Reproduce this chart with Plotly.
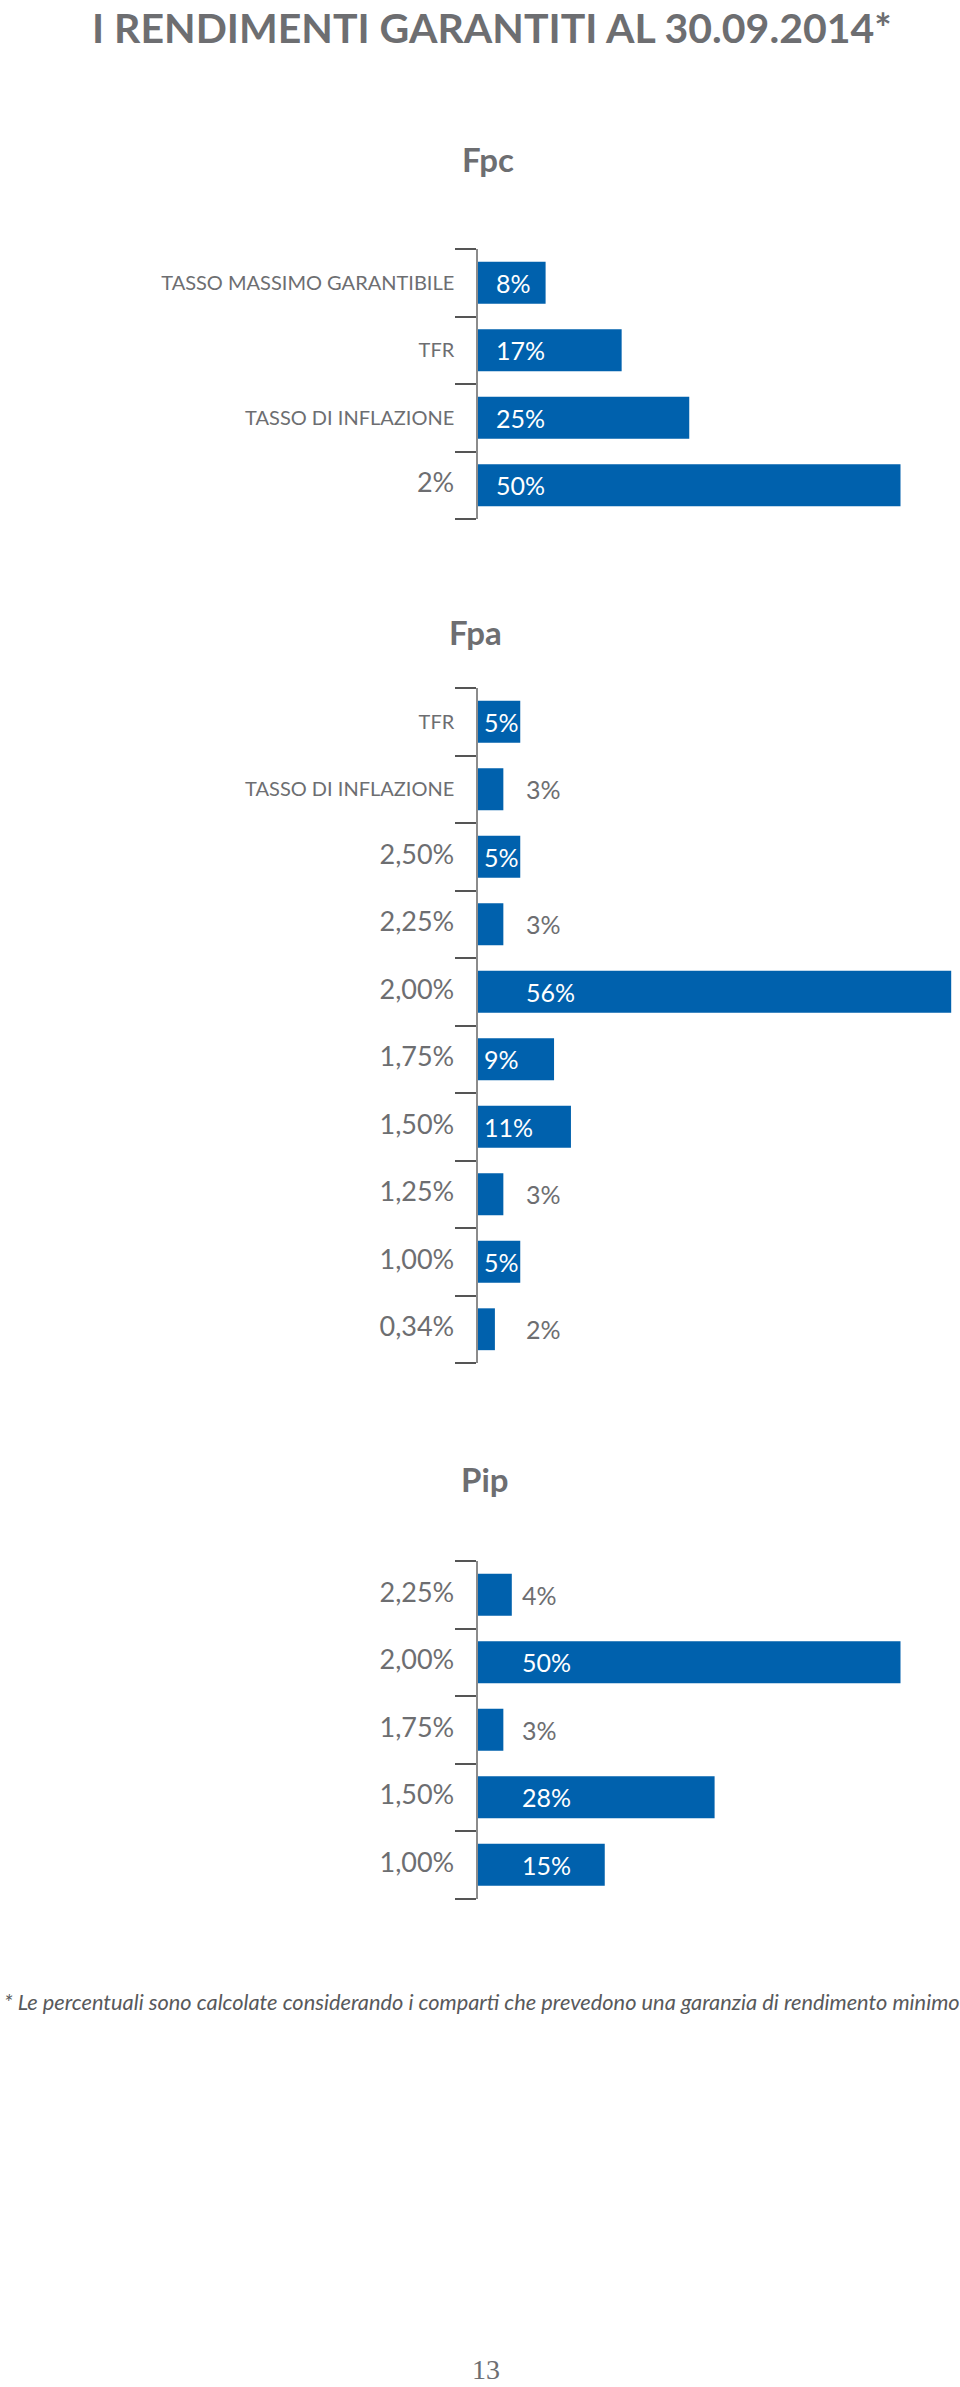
import plotly.graph_objects as go

# ---------------- data ----------------
fpc_cats = ["TASSO MASSIMO GARANTIBILE", "TFR", "TASSO DI INFLAZIONE", "2%"]
fpc_vals = [8, 17, 25, 50]

fpa_cats = ["TFR", "TASSO DI INFLAZIONE", "2,50%", "2,25%", "2,00%",
            "1,75%", "1,50%", "1,25%", "1,00%", "0,34%"]
fpa_vals = [5, 3, 5, 3, 56, 9, 11, 3, 5, 2]

pip_cats = ["2,25%", "2,00%", "1,75%", "1,50%", "1,00%"]
pip_vals = [4, 50, 3, 28, 15]

panel_titles = ["Fpc", "Fpa", "Pip"]
main_title = "I RENDIMENTI GARANTITI AL 30.09.2014*"
footnote = ("* Le percentuali sono calcolate considerando i comparti che "
            "prevedono una garanzia di rendimento minimo")
page_number = "13"

# ---------------- styling / layout ----------------
W, H = 960, 2387
FONT = "Lato, 'Open Sans', 'DejaVu Sans', sans-serif"
GRAY = "#6d6e71"
BLUE = "#0061ad"
AXIS_X = 478          # pixel x of the category axis line
PX_PER_PCT = 8.45     # bar length scale
ROW = 67.5            # pixel height of one category row
LABEL_W = 50          # estimated pixel width of a value label

panels = [
    # cats, vals, top pixel of axis, label column offset (px), title centre x, title centre y
    (fpc_cats, fpc_vals, 249, 16, 488, 159),
    (fpa_cats, fpa_vals, 688, 46, 475, 632),
    (pip_cats, pip_vals, 1561, 42, 485, 1479),
]

def py(p):
    return 1 - p / H

fig = go.Figure()
annotations = []
x_range = [0, (W - AXIS_X) / PX_PER_PCT]

for i, (cats, vals, top, col, tx, ty) in enumerate(panels):
    n = len(cats)
    k = "" if i == 0 else str(i + 1)
    xa, ya = "x" + k, "y" + k
    fig.add_trace(go.Bar(
        x=vals, y=cats, orientation="h", xaxis=xa, yaxis=ya,
        marker=dict(color=BLUE, line=dict(width=0)), width=0.62,
        hoverinfo="x+y", showlegend=False))

    ticktext = []
    for c in cats:
        size = 27 if "%" in c else 20
        ticktext.append(f"<span style='font-size:{size}px'>{c}</span>")

    fig.layout["xaxis" + k] = dict(
        domain=[AXIS_X / W, 1], range=x_range, anchor=ya,
        visible=False, showgrid=False, zeroline=False, fixedrange=True)
    fig.layout["yaxis" + k] = dict(
        domain=[py(top + n * ROW), py(top)], anchor=xa, type="category",
        range=[n - 0.5, -0.5], tickmode="array", tickvals=cats, ticktext=ticktext,
        tickson="boundaries", ticks="outside", ticklen=21, tickwidth=1.5,
        tickcolor="#555555", showline=True, linecolor="#8c8c8c", linewidth=1.5,
        showgrid=False, zeroline=False, ticklabelstandoff=18,
        tickfont=dict(family=FONT, size=20, color=GRAY), fixedrange=True)

    # value labels
    for j, v in enumerate(vals):
        bar_px = v * PX_PER_PCT
        if col + LABEL_W <= bar_px:
            shift, color = col, "white"
        elif v >= 5:
            shift, color = 4, "white"
        else:
            shift, color = col, GRAY
        annotations.append(dict(
            x=0, y=j, xref=xa, yref=ya, xshift=shift, xanchor="left",
            yanchor="middle", showarrow=False, text=f"{v}%",
            font=dict(family=FONT, size=25, color=color)))

    # panel title
    annotations.append(dict(
        x=tx / W, y=py(ty), xref="paper", yref="paper", xanchor="center",
        yanchor="middle", showarrow=False, text=f"<b>{panel_titles[i]}</b>",
        font=dict(family=FONT, size=33, color=GRAY)))

annotations.append(dict(
    x=492 / W, y=py(27), xref="paper", yref="paper", xanchor="center",
    yanchor="middle", showarrow=False, text=f"<b>{main_title}</b>",
    font=dict(family=FONT, size=41, color=GRAY)))
annotations.append(dict(
    x=2 / W, y=py(2001), xref="paper", yref="paper", xanchor="left",
    yanchor="middle", showarrow=False, text=f"<i>{footnote}</i>",
    font=dict(family=FONT, size=21.8, color="#58595b")))
annotations.append(dict(
    x=486 / W, y=py(2369), xref="paper", yref="paper", xanchor="center",
    yanchor="middle", showarrow=False, text=page_number,
    font=dict(family="'Liberation Serif', 'DejaVu Serif', serif", size=28,
              color="#6d6e71")))

fig.update_layout(
    width=W, height=H, margin=dict(l=0, r=0, t=0, b=0),
    paper_bgcolor="white", plot_bgcolor="white",
    annotations=annotations, bargap=0.38, showlegend=False)

fig.write_html("out.html")
